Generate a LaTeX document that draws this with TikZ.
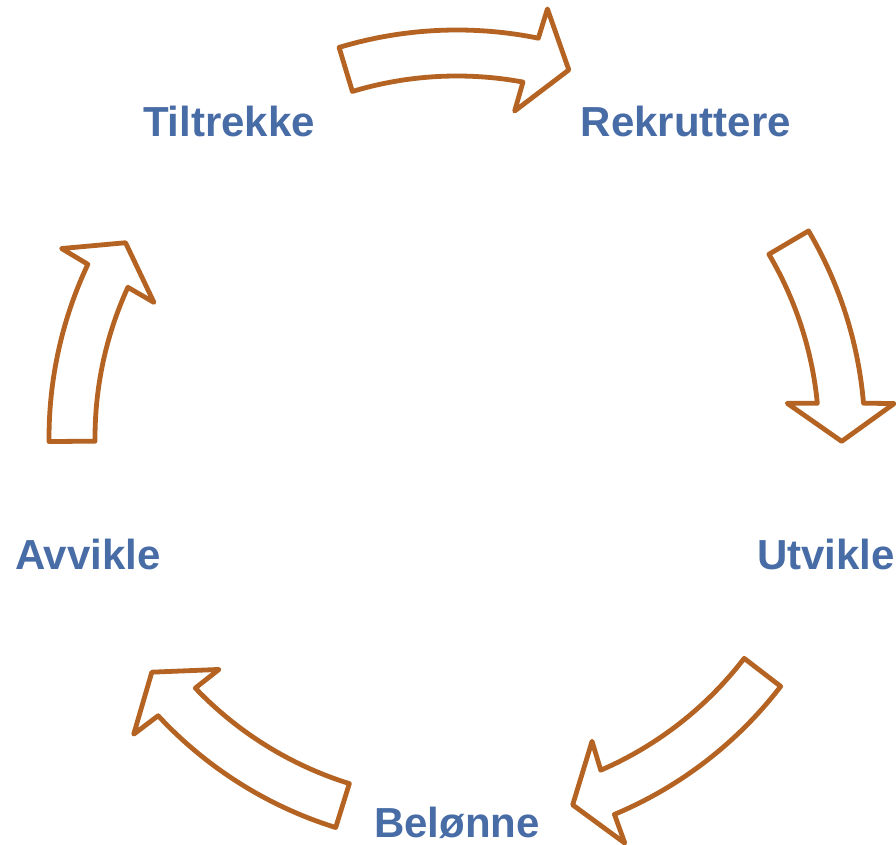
\documentclass[tikz,border=0pt]{standalone}
\usepackage{fontspec}
\setmainfont{Liberation Sans}
\definecolor{arrowc}{RGB}{180,99,34}
\definecolor{textc}{RGB}{72,108,166}
\begin{document}
\begin{tikzpicture}[x=1pt,y=1pt,
  cyclearrow/.style={draw=arrowc,fill=white,line width=4.8pt,line join=round},
  label/.style={text=textc,font=\fontsize{42}{50}\selectfont\bfseries,inner sep=0pt}]
\useasboundingbox (0,0) rectangle (896,845);
% arrows: tail angle, notch outer, head outer, tip, head inner, notch inner (standard angles)
\newcommand{\cyclearr}[6]{%
  \draw[cyclearrow] (#1:408) arc[start angle=#1,end angle=#2,radius=408pt]
    -- (#3:438.5) -- (#4:384.7) -- (#5:332) -- (#6:362)
    arc[start angle=#6,end angle=#1,radius=362pt] -- cycle;}
\begin{scope}[shift={(457,407)}]
  \cyclearr{106.8}{78.5}{78.1}{73.1}{80.0}{79.5}
  \cyclearr{30.5}{4.9}{4.5}{-0.5}{6.0}{5.5}
  \cyclearr{-37.5}{-67.3}{-67.5}{-72.5}{-66.0}{-66.6}
  \cyclearr{-107.3}{-137.1}{-137.5}{-142.5}{-135.8}{-136.3}
  \cyclearr{-179.5}{-205.2}{-205.6}{-210.5}{-204.1}{-204.6}
\end{scope}
\node[label,anchor=base] (tiltrekke) at (229,708) {Tiltrekke};
\node[label,anchor=base] (rekruttere) at (686,708) {Rekruttere};
\node[label,anchor=base west] (utvikle) at (757,275) {Utvikle};
\node[label,anchor=base] (belonne) at (457,7) {Belønne};
\node[label,anchor=base west] (avvikle) at (15,275) {Avvikle};
\end{tikzpicture}
\end{document}
